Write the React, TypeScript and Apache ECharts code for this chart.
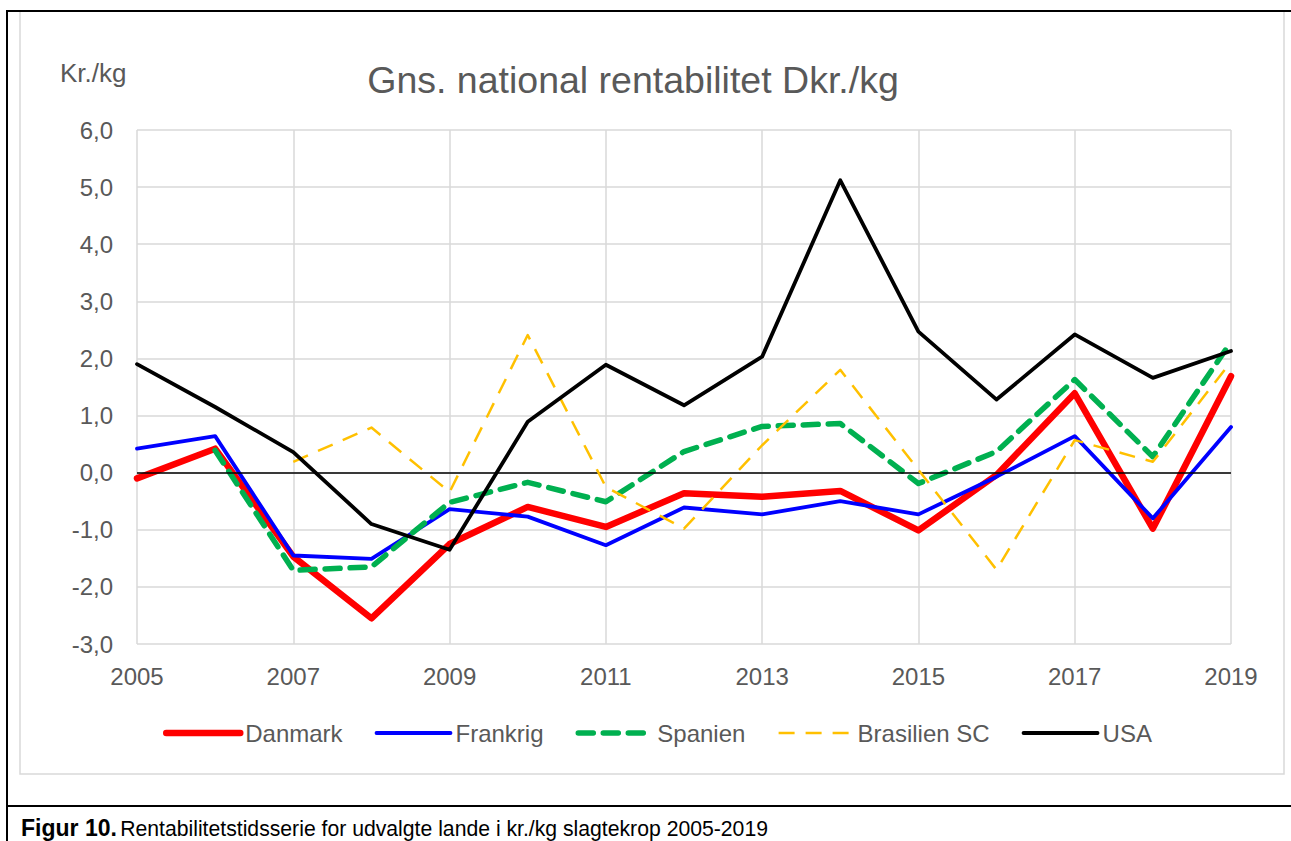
import React, { useEffect, useRef } from "react";
import * as echarts from "echarts";

const years = ["2005","2006","2007","2008","2009","2010","2011","2012","2013","2014","2015","2016","2017","2018","2019"];
const danmark = [-0.1, 0.42, -1.47, -2.55, -1.25, -0.6, -0.95, -0.36, -0.42, -0.32, -1.01, -0.04, 1.39, -0.98, 1.69];
const frankrig = [0.42, 0.64, -1.45, -1.51, -0.64, -0.77, -1.27, -0.61, -0.73, -0.5, -0.73, -0.07, 0.64, -0.8, 0.8];
const spanien = [null, 0.39, -1.71, -1.65, -0.52, -0.17, -0.51, 0.37, 0.81, 0.86, -0.19, 0.37, 1.63, 0.28, 2.29];
const brasilien = [null, null, 0.19, 0.79, -0.34, 2.41, -0.25, -0.98, 0.48, 1.8, 0.05, -1.7, 0.57, 0.19, 1.94];
const usa = [1.9, 1.15, 0.36, -0.9, -1.35, 0.89, 1.89, 1.18, 2.03, 5.12, 2.47, 1.28, 2.42, 1.66, 2.13];
const seriesNames = ["Danmark", "Frankrig", "Spanien", "Brasilien SC", "USA"];
const yMin = -3;
const yMax = 6;
const yStep = 1;

const titleText = "Gns. national rentabilitet Dkr./kg";
const unitText = "Kr./kg";
const captionBold = "Figur 10.";
const captionText = "Rentabilitetstidsserie for udvalgte lande i kr./kg slagtekrop 2005-2019";

const FONT = "'Liberation Sans', Arial, sans-serif";
const GREY = "#595959";

export default function App() {
  const ref = useRef<HTMLDivElement>(null);
  useEffect(() => {
    if (!ref.current) return;
    const chart = echarts.init(ref.current, undefined, { renderer: "svg" });
    const lineSeries = (name: string, data: (number | null)[], color: string, width: number, type: any, cap: any, z: number) => ({
      name,
      type: "line",
      data,
      showSymbol: false,
      symbol: "none",
      connectNulls: false,
      z,
      lineStyle: { color, width, type, cap, join: "round" },
      itemStyle: { color },
      emphasis: { disabled: true },
    });
    chart.setOption({
      animation: false,
      backgroundColor: "#ffffff",
      textStyle: { fontFamily: FONT },
      grid: { left: 137, right: 60, top: 130, bottom: 197, containLabel: false },
      legend: {
        data: seriesNames,
        left: 163,
        top: 721,
        padding: 0,
        itemWidth: 74,
        itemHeight: 12,
        itemGap: 32,
        selectedMode: false,
        itemStyle: { opacity: 0 },
        lineStyle: { width: "inherit", type: "inherit", cap: "inherit" },
        textStyle: { fontSize: 24, color: GREY, fontFamily: FONT },
      },
      xAxis: {
        type: "category",
        data: years,
        boundaryGap: false,
        axisLine: { show: false },
        axisTick: { show: false },
        axisLabel: { interval: 1, fontSize: 24, color: GREY, margin: 20, fontFamily: FONT },
        splitLine: { show: true, interval: 1, lineStyle: { color: "#d9d9d9", width: 1.5 } },
      },
      yAxis: {
        type: "value",
        min: yMin,
        max: yMax,
        interval: yStep,
        axisLine: { show: false },
        axisTick: { show: false },
        axisLabel: {
          fontSize: 24,
          color: GREY,
          margin: 24,
          fontFamily: FONT,
          formatter: (v: number) => v.toFixed(1).replace(".", ","),
        },
        splitLine: { show: true, lineStyle: { color: "#d9d9d9", width: 1.5 } },
      },
      series: [
        {
          name: "_zero",
          type: "line",
          data: [],
          z: 1,
          markLine: {
            silent: true,
            symbol: ["none", "none"],
            label: { show: false },
            lineStyle: { color: "#000000", width: 1.5, type: "solid" },
            data: [{ yAxis: 0 }],
          },
        },
        lineSeries("Danmark", danmark, "#FF0000", 6.5, "solid", "round", 2),
        lineSeries("Frankrig", frankrig, "#0000FF", 3.8, "solid", "round", 3),
        lineSeries("Spanien", spanien, "#00B050", 5.5, [15, 10], "round", 4),
        lineSeries("Brasilien SC", brasilien, "#FFC000", 2.5, [16, 11], "butt", 5),
        lineSeries("USA", usa, "#000000", 3.8, "solid", "round", 6),
      ],
      graphic: [
        {
          type: "rect",
          silent: true,
          shape: { x: 20, y: 11, width: 1264, height: 763 },
          style: { fill: "none", stroke: "#d9d9d9", lineWidth: 1.5 },
          z: -1,
        },
        { type: "line", silent: true, shape: { x1: 6, y1: 11, x2: 1291, y2: 11 }, style: { stroke: "#000", lineWidth: 2 } },
        { type: "line", silent: true, shape: { x1: 7, y1: 10, x2: 7, y2: 841 }, style: { stroke: "#000", lineWidth: 2 } },
        { type: "line", silent: true, shape: { x1: 6, y1: 806, x2: 1291, y2: 806 }, style: { stroke: "#000", lineWidth: 2 } },
        {
          type: "text",
          silent: true,
          x: 633,
          y: 80,
          style: { text: titleText, fill: GREY, font: `37.5px ${FONT}`, align: "center", verticalAlign: "middle" },
        },
        {
          type: "text",
          silent: true,
          x: 60,
          y: 73,
          style: { text: unitText, fill: GREY, font: `26px ${FONT}`, align: "left", verticalAlign: "middle" },
        },
        {
          type: "text",
          silent: true,
          x: 21,
          y: 828,
          style: {
            text: `{b|${captionBold}} {r|${captionText}}`,
            fill: "#000",
            align: "left",
            verticalAlign: "middle",
            rich: {
              b: { fontWeight: "bold", fontSize: 23, fontFamily: FONT, fill: "#000" },
              r: { fontSize: 21.2, fontFamily: FONT, fill: "#000" },
            },
          },
        },
      ],
    });
    return () => chart.dispose();
  }, []);
  return (
    <div
      ref={ref}
      style={{ position: "absolute", left: 0, top: 0, width: 1291, height: 841, background: "#fff" }}
    />
  );
}
